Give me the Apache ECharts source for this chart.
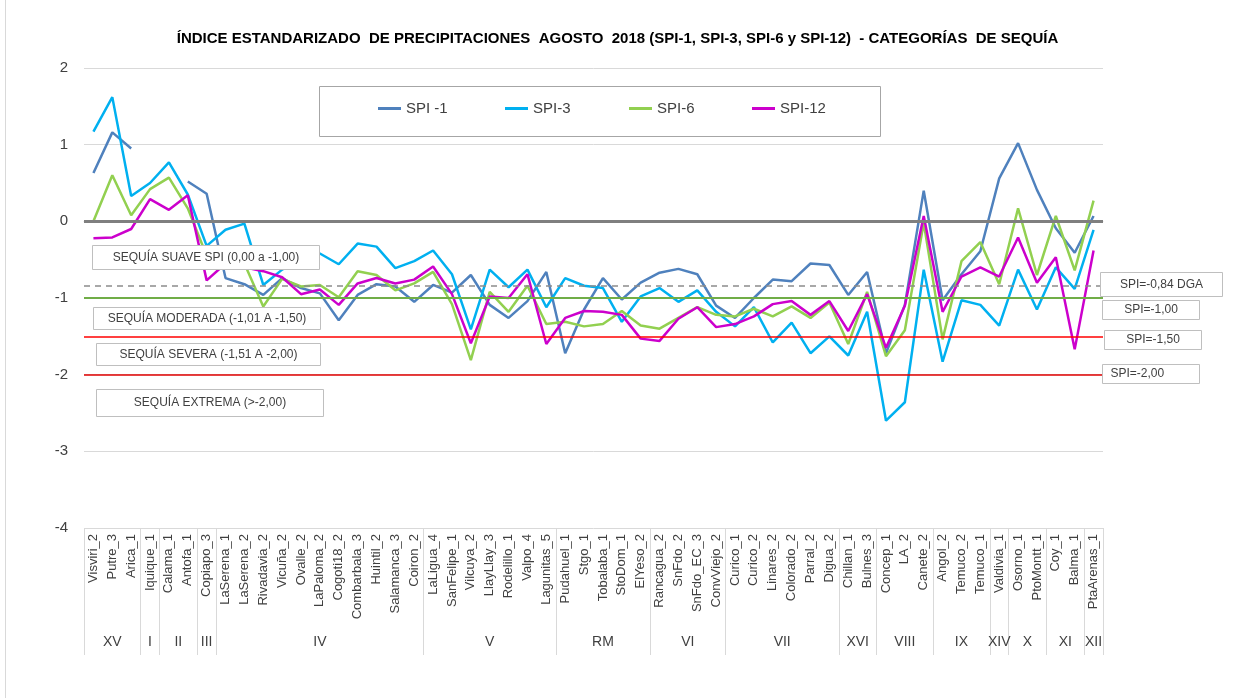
<!DOCTYPE html>
<html>
<head>
<meta charset="utf-8">
<title>SPI agosto 2018</title>
<script src="https://cdn.jsdelivr.net/npm/echarts@6.0.0/dist/echarts.min.js"></script>
<style>
  html, body { margin: 0; padding: 0; background: #fff; }
  #chart { width: 1235px; height: 698px; }
</style>
</head>
<body>
<div id="chart"></div>
<script>
// estaciones (eje x) y regiones (segundo nivel del eje)
const estaciones = [
  'Visviri_2', 'Putre_3', 'Arica_1', 'Iquique_1', 'Calama_1', 'Antofa_1', 'Copiapo_3',
  'LaSerena_1', 'LaSerena_2', 'Rivadavia_2', 'Vicuña_2', 'Ovalle_2', 'LaPaloma_2', 'Cogoti18_2',
  'Combarbala_3', 'Huintil_2', 'Salamanca_3', 'Coiron_2',
  'LaLigua_4', 'SanFelipe_1', 'Vilcuya_2', 'LlayLlay_3', 'Rodelillo_1', 'Valpo_4', 'Lagunitas_5',
  'Pudahuel_1', 'Stgo_1', 'Tobalaba_1', 'StoDom_1', 'ElYeso_2',
  'Rancagua_2', 'SnFdo_2', 'SnFdo_EC_3', 'ConvViejo_2',
  'Curico_1', 'Curico_2', 'Linares_2', 'Colorado_2', 'Parral_2', 'Digua_2',
  'Chillan_1', 'Bulnes_3', 'Concep_1', 'LA_2', 'Canete_2',
  'Angol_2', 'Temuco_2', 'Temuco_1', 'Valdivia_1', 'Osorno_1', 'PtoMontt_1',
  'Coy_1', 'Balma_1', 'PtaArenas_1'
]
const regiones = ['XV', 'I', 'II', 'III', 'IV', 'V', 'RM', 'VI', 'VII', 'XVI', 'VIII', 'IX', 'XIV', 'X', 'XI', 'XII']
const estacionesPorRegion = [3, 1, 2, 1, 11, 7, 5, 4, 6, 2, 3, 3, 1, 2, 2, 1]

const spi1 = [
  0.63, 1.16, 0.95, null, null, 0.52, 0.36,
  -0.74, -0.82, -0.96, -0.74, -0.87, -0.94, -1.29,
  -0.96, -0.82, -0.85, -1.05,
  -0.83, -0.93, -0.70, -1.09, -1.26, -1.04, -0.66,
  -1.72, -1.15, -0.74, -1.02, -0.80,
  -0.67, -0.62, -0.69, -1.10,
  -1.26, -1.00, -0.76, -0.78, -0.55, -0.57,
  -0.96, -0.66, -1.72, -1.09, 0.40,
  -1.03, -0.69, -0.39, 0.56, 1.02, 0.41,
  -0.09, -0.41, 0.07
]
const spi3 = [
  1.17, 1.62, 0.33, 0.50, 0.77, 0.35, -0.32,
  -0.11, -0.03, -0.83, -0.63, -0.45, -0.42, -0.56,
  -0.29, -0.33, -0.61, -0.52,
  -0.38, -0.69, -1.41, -0.63, -0.86, -0.63, -1.12,
  -0.74, -0.84, -0.87, -1.31, -0.98,
  -0.87, -1.05, -0.90, -1.18,
  -1.37, -1.12, -1.58, -1.32, -1.72, -1.50,
  -1.75, -1.18, -2.60, -2.36, -0.63,
  -1.83, -1.03, -1.09, -1.36, -0.63, -1.15,
  -0.60, -0.88, -0.11
]
const spi6 = [
  0.00, 0.60, 0.08, 0.42, 0.57, 0.17, -0.45,
  -0.45, -0.55, -1.11, -0.75, -0.85, -0.83, -0.99,
  -0.65, -0.70, -0.90, -0.81,
  -0.66, -1.08, -1.81, -0.92, -1.18, -0.84, -1.34,
  -1.31, -1.37, -1.34, -1.17, -1.36,
  -1.40, -1.26, -1.12, -1.22,
  -1.24, -1.14, -1.24, -1.11, -1.26, -1.06,
  -1.60, -0.92, -1.76, -1.42, -0.02,
  -1.54, -0.52, -0.27, -0.82, 0.17, -0.70,
  0.07, -0.64, 0.27
]
const spi12 = [
  -0.22, -0.21, -0.10, 0.29, 0.15, 0.34, -0.77,
  -0.55, -0.60, -0.65, -0.73, -0.95, -0.89, -1.09,
  -0.81, -0.74, -0.81, -0.76,
  -0.59, -0.95, -1.59, -0.98, -1.00, -0.69, -1.60,
  -1.26, -1.17, -1.18, -1.22, -1.53,
  -1.56, -1.27, -1.12, -1.38,
  -1.34, -1.24, -1.08, -1.04, -1.22, -1.04,
  -1.43, -0.95, -1.65, -1.10, 0.07,
  -1.18, -0.72, -0.60, -0.72, -0.21, -0.80,
  -0.47, -1.67, -0.38
]

// umbrales de sequía
const umbrales = [0, -0.84, -1, -1.5, -2]

const font = 'Liberation Sans'
const gris = '#404040'

// limites y centros de cada region en el eje
let acumulado = 0
const limites = [0]
const centros = []
estacionesPorRegion.forEach(n => {
  centros.push(acumulado + n / 2)
  acumulado += n
  limites.push(acumulado)
})

const estilosUmbral = [
  { color: '#7F7F7F', width: 3, type: 'solid' },
  { color: '#8C8C8C', width: 1.5, type: [6, 5] },
  { color: '#70AD47', width: 2, type: 'solid' },
  { color: '#FF0000', width: 1.5, type: 'solid' },
  { color: '#E00000', width: 1.5, type: 'solid' }
]

function caja(x, y, w, h, texto, align) {
  return [
    {
      type: 'rect', z: 100,
      shape: { x: x, y: y, width: w, height: h },
      style: { fill: '#fff', stroke: '#BFBFBF', lineWidth: 1 }
    },
    {
      type: 'text', z: 101,
      x: align === 'left' ? x + 8 : x + w / 2,
      y: y + h / 2,
      style: {
        text: texto, fill: gris, font: '12px "' + font + '"',
        align: align || 'center', verticalAlign: 'middle'
      }
    }
  ]
}

const chart = echarts.init(document.getElementById('chart'))

const seriesNames = ['SPI -1', 'SPI-3', 'SPI-6', 'SPI-12']
const colores = ['#4F81BD', '#00B0F0', '#92D050', '#CC00CC']
const datos = [spi1, spi3, spi6, spi12]
const legendLeft = [378, 505, 629, 752]

const option = {
  animation: false,
  textStyle: { fontFamily: font },
  title: {
    text: 'ÍNDICE ESTANDARIZADO  DE PRECIPITACIONES  AGOSTO  2018 (SPI-1, SPI-3, SPI-6 y SPI-12)  - CATEGORÍAS  DE SEQUÍA',
    left: 'center',
    top: 26,
    textStyle: { fontSize: 15, fontWeight: 'bold', color: '#000', fontFamily: font }
  },
  legend: seriesNames.map((n, i) => ({
    data: [{ name: n, icon: 'rect' }],
    left: legendLeft[i],
    top: 101,
    padding: 0,
    itemWidth: 23,
    itemHeight: 3,
    itemStyle: { color: colores[i] },
    textStyle: { fontSize: 15, color: gris, fontFamily: font }
  })),
  grid: { left: 84, right: 132, top: 68, bottom: 170 },
  xAxis: [
    {
      type: 'category',
      data: estaciones,
      boundaryGap: true,
      axisLine: { lineStyle: { color: '#D9D9D9' } },
      axisTick: { show: false },
      axisLabel: { interval: 0, rotate: 90, fontSize: 13, color: gris, margin: 6 }
    },
    {
      type: 'value',
      min: 0,
      max: estaciones.length,
      position: 'bottom',
      offset: 127,
      axisLine: { show: false },
      splitLine: { show: false },
      axisTick: {
        show: true, inside: true, length: 127, customValues: limites,
        lineStyle: { color: '#D9D9D9' }
      },
      axisLabel: {
        inside: true, margin: 6, customValues: centros,
        fontSize: 14, color: gris,
        formatter: v => regiones[centros.indexOf(v)]
      }
    }
  ],
  yAxis: {
    type: 'value',
    min: -4,
    max: 2,
    interval: 1,
    axisLine: { show: false },
    axisTick: { show: false },
    splitLine: { lineStyle: { color: '#D9D9D9' } },
    axisLabel: { fontSize: 15, color: gris, margin: 16 }
  },
  series: [
    {
      name: 'umbrales',
      type: 'line',
      data: [],
      z: 1,
      markLine: {
        silent: true,
        symbol: 'none',
        label: { show: false },
        data: umbrales.map((u, i) => ({ yAxis: u, lineStyle: estilosUmbral[i] }))
      }
    }
  ].concat(seriesNames.map((n, i) => ({
    name: n,
    type: 'line',
    data: datos[i],
    symbol: 'none',
    connectNulls: false,
    z: 3,
    color: colores[i],
    lineStyle: { width: 2.5, color: colores[i] }
  }))),
  graphic: [
    { type: 'line', shape: { x1: 5.5, y1: 0, x2: 5.5, y2: 698 }, style: { stroke: '#D9D9D9', lineWidth: 1 } },
    { type: 'rect', z: 100, shape: { x: 319.5, y: 86.5, width: 561, height: 50 }, style: { fill: 'none', stroke: '#A6A6A6', lineWidth: 1 } }
  ].concat(
    caja(92.5, 245.5, 227, 24, 'SEQUÍA SUAVE SPI (0,00 a -1,00)'),
    caja(93.5, 307.5, 227, 22, 'SEQUÍA MODERADA (-1,01 A -1,50)'),
    caja(96.5, 343.5, 224, 22, 'SEQUÍA SEVERA (-1,51 A -2,00)'),
    caja(96.5, 389.5, 227, 27, 'SEQUÍA EXTREMA (>-2,00)'),
    caja(1100.5, 272.5, 122, 24, 'SPI=-0,84 DGA'),
    caja(1102.5, 300.5, 97, 19, 'SPI=-1,00'),
    caja(1104.5, 330.5, 97, 19, 'SPI=-1,50'),
    caja(1102.5, 364.5, 97, 19, 'SPI=-2,00', 'left')
  )
}

chart.setOption(option)
</script>
</body>
</html>
